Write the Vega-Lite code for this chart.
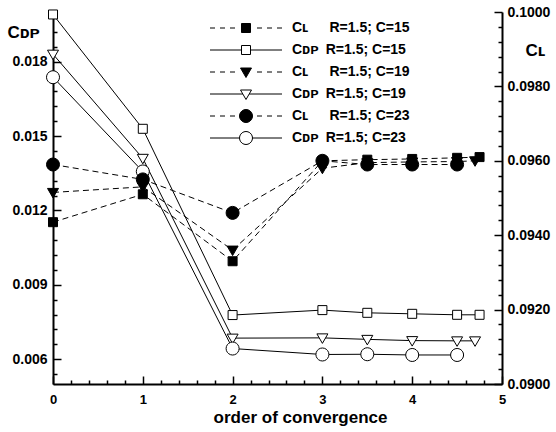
{
  "$schema": "https://vega.github.io/schema/vega-lite/v6.json",
  "width": 449,
  "height": 372,
  "autosize": {"type": "none"},
  "padding": {"left": 53, "top": 12, "right": 54, "bottom": 48},
  "background": "white",
  "config": {
    "view": {"stroke": null},
    "font": "Liberation Sans",
    "axis": {
      "domainColor": "black", "domainWidth": 2, "tickColor": "black", "tickWidth": 1.5,
      "grid": false,
      "labelColor": "black", "labelFont": "Liberation Sans", "labelFontWeight": "bold",
      "titleFont": "Liberation Sans", "titleFontWeight": "bold", "titleColor": "black",
      "labelOverlap": false, "labelFlush": false
    }
  },
  "data": {
    "values": [
      {"x": 0, "q": "CDP", "s": "CDP C=15", "v": 0.0199},
      {"x": 1, "q": "CDP", "s": "CDP C=15", "v": 0.01529},
      {"x": 2, "q": "CDP", "s": "CDP C=15", "v": 0.00778},
      {"x": 3, "q": "CDP", "s": "CDP C=15", "v": 0.00798},
      {"x": 3.5, "q": "CDP", "s": "CDP C=15", "v": 0.00787},
      {"x": 4, "q": "CDP", "s": "CDP C=15", "v": 0.00783},
      {"x": 4.5, "q": "CDP", "s": "CDP C=15", "v": 0.00779},
      {"x": 4.75, "q": "CDP", "s": "CDP C=15", "v": 0.00779},
      {"x": 0, "q": "CDP", "s": "CDP C=19", "v": 0.0183},
      {"x": 1, "q": "CDP", "s": "CDP C=19", "v": 0.0141},
      {"x": 2, "q": "CDP", "s": "CDP C=19", "v": 0.00685},
      {"x": 3, "q": "CDP", "s": "CDP C=19", "v": 0.00686},
      {"x": 3.5, "q": "CDP", "s": "CDP C=19", "v": 0.0068},
      {"x": 4, "q": "CDP", "s": "CDP C=19", "v": 0.00675},
      {"x": 4.5, "q": "CDP", "s": "CDP C=19", "v": 0.00674},
      {"x": 4.7, "q": "CDP", "s": "CDP C=19", "v": 0.00674},
      {"x": 0, "q": "CDP", "s": "CDP C=23", "v": 0.01737},
      {"x": 1, "q": "CDP", "s": "CDP C=23", "v": 0.01357},
      {"x": 2, "q": "CDP", "s": "CDP C=23", "v": 0.00643},
      {"x": 3, "q": "CDP", "s": "CDP C=23", "v": 0.00619},
      {"x": 3.5, "q": "CDP", "s": "CDP C=23", "v": 0.0062},
      {"x": 4, "q": "CDP", "s": "CDP C=23", "v": 0.00617},
      {"x": 4.5, "q": "CDP", "s": "CDP C=23", "v": 0.00617},
      {"x": 0, "q": "CL", "s": "CL C=15", "v": 0.09435},
      {"x": 1, "q": "CL", "s": "CL C=15", "v": 0.0951},
      {"x": 2, "q": "CL", "s": "CL C=15", "v": 0.0933},
      {"x": 3, "q": "CL", "s": "CL C=15", "v": 0.096},
      {"x": 3.5, "q": "CL", "s": "CL C=15", "v": 0.09603},
      {"x": 4, "q": "CL", "s": "CL C=15", "v": 0.09605},
      {"x": 4.5, "q": "CL", "s": "CL C=15", "v": 0.09608},
      {"x": 4.75, "q": "CL", "s": "CL C=15", "v": 0.0961},
      {"x": 0, "q": "CL", "s": "CL C=19", "v": 0.09515},
      {"x": 1, "q": "CL", "s": "CL C=19", "v": 0.0953},
      {"x": 2, "q": "CL", "s": "CL C=19", "v": 0.0936},
      {"x": 3, "q": "CL", "s": "CL C=19", "v": 0.0958},
      {"x": 3.5, "q": "CL", "s": "CL C=19", "v": 0.09595},
      {"x": 4, "q": "CL", "s": "CL C=19", "v": 0.09597},
      {"x": 4.5, "q": "CL", "s": "CL C=19", "v": 0.09598},
      {"x": 4.7, "q": "CL", "s": "CL C=19", "v": 0.096},
      {"x": 0, "q": "CL", "s": "CL C=23", "v": 0.0959},
      {"x": 1, "q": "CL", "s": "CL C=23", "v": 0.0955},
      {"x": 2, "q": "CL", "s": "CL C=23", "v": 0.0946},
      {"x": 3, "q": "CL", "s": "CL C=23", "v": 0.096},
      {"x": 3.5, "q": "CL", "s": "CL C=23", "v": 0.0959},
      {"x": 4, "q": "CL", "s": "CL C=23", "v": 0.0959},
      {"x": 4.5, "q": "CL", "s": "CL C=23", "v": 0.0959}
    ]
  },
  "layer": [
    {
      "transform": [{"filter": {"field": "q", "equal": "CDP"}}],
      "mark": {"type": "line", "stroke": "black", "strokeWidth": 1},
      "encoding": {
        "x": {
          "field": "x", "type": "quantitative",
          "scale": {"domain": [0, 5], "nice": false, "zero": false},
          "axis": {
            "orient": "bottom", "ticks": false,
            "values": [0, 1, 2, 3, 4, 5], "format": "d",
            "labelPadding": 9, "labelFontSize": 13,
            "title": "order of convergence", "titleFontSize": 17,
            "titleX": 247, "titleY": 38, "titleAlign": "center", "titleBaseline": "alphabetic"
          }
        },
        "detail": {"field": "s", "type": "nominal"},
        "y": {
          "field": "v", "type": "quantitative",
          "scale": {"domain": [0.005, 0.02], "nice": false, "zero": false},
          "axis": {
            "orient": "left", "ticks": false,
            "values": [0.006, 0.009, 0.012, 0.015, 0.018], "format": ".3f",
            "labelPadding": 6, "labelFontSize": 14,
            "title": "C\u1d05\u1d18", "titleAngle": 0, "titleX": -46, "titleY": 25,
            "titleAlign": "left", "titleBaseline": "alphabetic", "titleFontSize": 17
          }
        }
      }
    },
    {
      "transform": [{"filter": {"field": "q", "equal": "CL"}}],
      "mark": {"type": "line", "stroke": "black", "strokeWidth": 1, "strokeDash": [6, 4]},
      "encoding": {
        "x": {
          "field": "x", "type": "quantitative",
          "scale": {"domain": [0, 5], "nice": false, "zero": false},
          "axis": {"orient": "bottom", "domain": false, "labels": false, "title": null, "ticks": true, "tickSize": 8, "offset": -8, "values": [0, 1, 2, 3, 4, 5]}
        },
        "detail": {"field": "s", "type": "nominal"},
        "y": {
          "field": "v", "type": "quantitative",
          "scale": {"domain": [0.09, 0.1], "nice": false, "zero": false},
          "axis": {
            "orient": "right", "ticks": false,
            "values": [0.09, 0.092, 0.094, 0.096, 0.098, 0.1], "format": ".4f",
            "labelPadding": 5, "labelFontSize": 14,
            "title": "C\u029f", "titleAngle": 0, "titleX": 23, "titleY": 43,
            "titleAlign": "left", "titleBaseline": "alphabetic", "titleFontSize": 17
          }
        }
      }
    },
    {
      "transform": [{"filter": {"field": "q", "equal": "CDP"}}],
      "mark": {"type": "point", "filled": true, "size": 100, "stroke": "black", "strokeWidth": 1, "opacity": 1},
      "encoding": {
        "x": {
          "field": "x", "type": "quantitative",
          "scale": {"domain": [0, 5], "nice": false, "zero": false},
          "axis": {"orient": "bottom", "domain": false, "labels": false, "title": null, "ticks": true, "tickSize": 4, "offset": -4, "values": [0.2,0.4,0.6,0.8,1.2,1.4,1.6,1.8,2.2,2.4,2.6,2.8,3.2,3.4,3.6,3.8,4.2,4.4,4.6,4.8]}
        },
        "y": {
          "field": "v", "type": "quantitative",
          "scale": {"domain": [0.005, 0.02], "nice": false, "zero": false},
          "axis": {"orient": "left", "domain": false, "labels": false, "title": null, "ticks": true, "tickSize": 8, "offset": -8, "values": [0.006, 0.009, 0.012, 0.015, 0.018]}
        },
        "shape": {
          "field": "s", "type": "nominal", "legend": null,
          "scale": {
            "domain": ["CL C=15", "CDP C=15", "CL C=19", "CDP C=19", "CL C=23", "CDP C=23"],
            "range": [
              "M-0.9,-0.9H0.9V0.9H-0.9Z",
              "M-0.9,-0.9H0.9V0.9H-0.9Z",
              "M-1.1,-0.8L1.1,-0.8L0,1.1Z",
              "M-1.1,-0.8L1.1,-0.8L0,1.1Z",
              "M1.3,0L1.236,0.402L1.052,0.764L0.764,1.052L0.402,1.236L0,1.3L-0.402,1.236L-0.764,1.052L-1.052,0.764L-1.236,0.402L-1.3,0L-1.236,-0.402L-1.052,-0.764L-0.764,-1.052L-0.402,-1.236L0,-1.3L0.402,-1.236L0.764,-1.052L1.052,-0.764L1.236,-0.402Z",
              "M1.3,0L1.236,0.402L1.052,0.764L0.764,1.052L0.402,1.236L0,1.3L-0.402,1.236L-0.764,1.052L-1.052,0.764L-1.236,0.402L-1.3,0L-1.236,-0.402L-1.052,-0.764L-0.764,-1.052L-0.402,-1.236L0,-1.3L0.402,-1.236L0.764,-1.052L1.052,-0.764L1.236,-0.402Z"
            ]
          }
        },
        "fill": {
          "field": "s", "type": "nominal", "legend": null,
          "scale": {"domain": ["CL C=15", "CDP C=15", "CL C=19", "CDP C=19", "CL C=23", "CDP C=23"], "range": ["black", "white", "black", "white", "black", "white"]}
        }
      }
    },
    {
      "transform": [{"filter": {"field": "q", "equal": "CL"}}],
      "mark": {"type": "point", "filled": true, "size": 100, "stroke": "black", "strokeWidth": 1, "opacity": 1},
      "encoding": {
        "x": {"field": "x", "type": "quantitative", "scale": {"domain": [0, 5], "nice": false, "zero": false}, "axis": null},
        "y": {
          "field": "v", "type": "quantitative",
          "scale": {"domain": [0.09, 0.1], "nice": false, "zero": false},
          "axis": {"orient": "right", "domain": false, "labels": false, "title": null, "ticks": true, "tickSize": 8, "offset": -8, "values": [0.09, 0.092, 0.094, 0.096, 0.098, 0.1]}
        },
        "shape": {
          "field": "s", "type": "nominal", "legend": null,
          "scale": {
            "domain": ["CL C=15", "CDP C=15", "CL C=19", "CDP C=19", "CL C=23", "CDP C=23"],
            "range": [
              "M-0.9,-0.9H0.9V0.9H-0.9Z",
              "M-0.9,-0.9H0.9V0.9H-0.9Z",
              "M-1.1,-0.8L1.1,-0.8L0,1.1Z",
              "M-1.1,-0.8L1.1,-0.8L0,1.1Z",
              "M1.3,0L1.236,0.402L1.052,0.764L0.764,1.052L0.402,1.236L0,1.3L-0.402,1.236L-0.764,1.052L-1.052,0.764L-1.236,0.402L-1.3,0L-1.236,-0.402L-1.052,-0.764L-0.764,-1.052L-0.402,-1.236L0,-1.3L0.402,-1.236L0.764,-1.052L1.052,-0.764L1.236,-0.402Z",
              "M1.3,0L1.236,0.402L1.052,0.764L0.764,1.052L0.402,1.236L0,1.3L-0.402,1.236L-0.764,1.052L-1.052,0.764L-1.236,0.402L-1.3,0L-1.236,-0.402L-1.052,-0.764L-0.764,-1.052L-0.402,-1.236L0,-1.3L0.402,-1.236L0.764,-1.052L1.052,-0.764L1.236,-0.402Z"
            ]
          }
        },
        "fill": {
          "field": "s", "type": "nominal", "legend": null,
          "scale": {"domain": ["CL C=15", "CDP C=15", "CL C=19", "CDP C=19", "CL C=23", "CDP C=23"], "range": ["black", "white", "black", "white", "black", "white"]}
        }
      }
    },
    {
      "mark": {"type": "point", "filled": true, "size": 100, "strokeWidth": 1, "opacity": 0},
      "encoding": {
        "x": {"field": "x", "type": "quantitative", "scale": {"domain": [0, 5], "nice": false, "zero": false}, "axis": null},
        "y": {
          "field": "v", "type": "quantitative",
          "scale": {"domain": [0.005, 0.02], "nice": false, "zero": false},
          "axis": {"orient": "left", "domain": false, "labels": false, "title": null, "ticks": true, "tickSize": 4, "offset": -4, "values": [0.0054,0.0066,0.0072,0.0078,0.0084,0.0096,0.0102,0.0108,0.0114,0.0126,0.0132,0.0138,0.0144,0.0156,0.0162,0.0168,0.0174,0.0186,0.0192,0.0198]}
        },
        "shape": {
          "field": "s", "type": "nominal",
          "scale": {
            "domain": ["CL C=15", "CDP C=15", "CL C=19", "CDP C=19", "CL C=23", "CDP C=23"],
            "range": [
              "M-7.2,0H-6.2M-5.2,0H-4.2M-3.2,0H-2.2M2.2,0H3.2M4.2,0H5.2M6.2,0H7.2M-0.9,-0.9H0.9V0.9H-0.9Z",
              "M-7.2,0H-0.9M0.9,0H7.2M-0.9,-0.9H0.9V0.9H-0.9Z",
              "M-7.2,0H-6.2M-5.2,0H-4.2M-3.2,0H-2.2M2.2,0H3.2M4.2,0H5.2M6.2,0H7.2M-1.1,-0.8L1.1,-0.8L0,1.1Z",
              "M-7.2,0H-0.64M0.64,0H7.2M-1.1,-0.8L1.1,-0.8L0,1.1Z",
              "M-7.2,0H-6.2M-5.2,0H-4.2M-3.2,0H-2.2M2.2,0H3.2M4.2,0H5.2M6.2,0H7.2M1.3,0L1.236,0.402L1.052,0.764L0.764,1.052L0.402,1.236L0,1.3L-0.402,1.236L-0.764,1.052L-1.052,0.764L-1.236,0.402L-1.3,0L-1.236,-0.402L-1.052,-0.764L-0.764,-1.052L-0.402,-1.236L0,-1.3L0.402,-1.236L0.764,-1.052L1.052,-0.764L1.236,-0.402Z",
              "M-7.2,0H-1.3M1.3,0H7.2M1.3,0L1.236,0.402L1.052,0.764L0.764,1.052L0.402,1.236L0,1.3L-0.402,1.236L-0.764,1.052L-1.052,0.764L-1.236,0.402L-1.3,0L-1.236,-0.402L-1.052,-0.764L-0.764,-1.052L-0.402,-1.236L0,-1.3L0.402,-1.236L0.764,-1.052L1.052,-0.764L1.236,-0.402Z"
            ]
          },
          "legend": {
            "orient": "none", "legendX": 186, "legendY": 9, "title": null, "padding": 0,
            "symbolSize": 100, "labelOffset": 39, "rowPadding": 4, "gridAlign": "all",
            "labelFont": "Liberation Sans", "labelFontSize": 14, "labelFontWeight": "bold", "labelColor": "black", "labelLimit": 400,
            "labelExpr": "(indexof(datum.value,'CDP')==0 ? 'C\u1d05\u1d18\u2002' : 'C\u029f\u2002\u2002\u2002') + 'R=1.5; ' + split(datum.value,' ')[1]",
            "symbolStrokeWidth": 1, "symbolOpacity": 1
          }
        },
        "fill": {
          "field": "s", "type": "nominal",
          "scale": {"domain": ["CL C=15", "CDP C=15", "CL C=19", "CDP C=19", "CL C=23", "CDP C=23"], "range": ["black", "white", "black", "white", "black", "white"]},
          "legend": {
            "orient": "none", "legendX": 186, "legendY": 9, "title": null, "padding": 0,
            "symbolSize": 100, "labelOffset": 39, "rowPadding": 4, "gridAlign": "all",
            "labelFont": "Liberation Sans", "labelFontSize": 14, "labelFontWeight": "bold", "labelColor": "black", "labelLimit": 400,
            "labelExpr": "(indexof(datum.value,'CDP')==0 ? 'C\u1d05\u1d18\u2002' : 'C\u029f\u2002\u2002\u2002') + 'R=1.5; ' + split(datum.value,' ')[1]",
            "symbolStrokeWidth": 1, "symbolOpacity": 1
          }
        },
        "stroke": {
          "field": "s", "type": "nominal",
          "scale": {"domain": ["CL C=15", "CDP C=15", "CL C=19", "CDP C=19", "CL C=23", "CDP C=23"], "range": ["black", "black", "black", "black", "black", "black"]},
          "legend": {
            "orient": "none", "legendX": 186, "legendY": 9, "title": null, "padding": 0,
            "symbolSize": 100, "labelOffset": 39, "rowPadding": 4, "gridAlign": "all",
            "labelFont": "Liberation Sans", "labelFontSize": 14, "labelFontWeight": "bold", "labelColor": "black", "labelLimit": 400,
            "labelExpr": "(indexof(datum.value,'CDP')==0 ? 'C\u1d05\u1d18\u2002' : 'C\u029f\u2002\u2002\u2002') + 'R=1.5; ' + split(datum.value,' ')[1]",
            "symbolStrokeWidth": 1, "symbolOpacity": 1
          }
        }
      }
    },
    {
      "transform": [{"filter": {"field": "q", "equal": "CL"}}],
      "mark": {"type": "point", "opacity": 0},
      "encoding": {
        "x": {"field": "x", "type": "quantitative", "scale": {"domain": [0, 5], "nice": false, "zero": false}, "axis": null},
        "y": {
          "field": "v", "type": "quantitative",
          "scale": {"domain": [0.09, 0.1], "nice": false, "zero": false},
          "axis": {"orient": "right", "domain": false, "labels": false, "title": null, "ticks": true, "tickSize": 4, "offset": -4, "values": [0.0904,0.0908,0.0912,0.0916,0.0924,0.0928,0.0932,0.0936,0.0944,0.0948,0.0952,0.0956,0.0964,0.0968,0.0972,0.0976,0.0984,0.0988,0.0992,0.0996]}
        }
      }
    }
  ],
  "resolve": {"scale": {"x": "independent", "y": "independent", "shape": "independent", "fill": "independent", "stroke": "independent"}}
}
